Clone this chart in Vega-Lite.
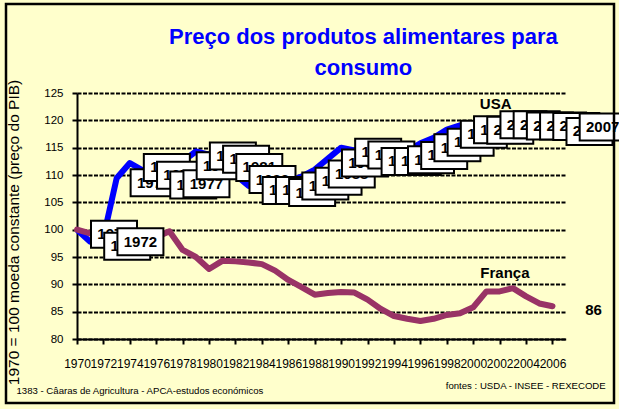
{
"$schema":"https://vega.github.io/schema/vega-lite/v6.json",
"width":488.7,"height":246,
"autosize":{"type":"none"},
"padding":{"left":77,"top":93,"right":53.3,"bottom":70},
"background":"#FFFFCC",
"config":{
 "view":{"stroke":null},
 "font":"Liberation Sans",
 "point":{"shape":"M14,-9h46v27h-46z","size":4,"filled":true,"fill":"white","stroke":"black","strokeWidth":2,"opacity":1},
 "text":{"dx":37,"dy":4.5,"font":"Liberation Sans","fontSize":15,"fontWeight":"bold","color":"black","align":"center","baseline":"middle"}
},
"title":{"text":["Preço dos produtos alimentares para","consumo"],"font":"Liberation Sans","fontSize":22,"fontWeight":"bold","color":"#0000FF","anchor":"middle","frame":"group","dx":42,"dy":77,"offset":0,"lineHeight":31},
"data":{"values":[
{"year":1970,"usa":100,"france":100},
{"year":1971,"usa":97.8,"france":99.3},
{"year":1972,"usa":98.6,"france":99},
{"year":1973,"usa":109.4,"france":98.8},
{"year":1974,"usa":112.2,"france":98.6},
{"year":1975,"usa":110.8,"france":98.7},
{"year":1976,"usa":109,"france":98.6},
{"year":1977,"usa":109.2,"france":99.7},
{"year":1978,"usa":112.5,"france":96.3},
{"year":1979,"usa":114.3,"france":95},
{"year":1980,"usa":113.7,"france":92.8},
{"year":1981,"usa":112.2,"france":94.3},
{"year":1982,"usa":110,"france":94.2},
{"year":1983,"usa":108,"france":94},
{"year":1984,"usa":108,"france":93.7},
{"year":1985,"usa":107.6,"france":92.5},
{"year":1986,"usa":108.8,"france":90.8},
{"year":1987,"usa":109.7,"france":89.5},
{"year":1988,"usa":111,"france":88.1},
{"year":1989,"usa":113,"france":88.4},
{"year":1990,"usa":115,"france":88.6},
{"year":1991,"usa":114.5,"france":88.5},
{"year":1992,"usa":113.3,"france":87.2},
{"year":1993,"usa":113.3,"france":85.5},
{"year":1994,"usa":113.6,"france":84.2},
{"year":1995,"usa":114.4,"france":83.7},
{"year":1996,"usa":115.8,"france":83.3},
{"year":1997,"usa":116.8,"france":83.7},
{"year":1998,"usa":118.3,"france":84.4},
{"year":1999,"usa":119.1,"france":84.7},
{"year":2000,"usa":119,"france":85.8},
{"year":2001,"usa":120,"france":88.7},
{"year":2002,"usa":120,"france":88.7},
{"year":2003,"usa":119.8,"france":89.3},
{"year":2004,"usa":119.8,"france":87.8},
{"year":2005,"usa":119.7,"france":86.5},
{"year":2006,"usa":118.8,"france":86},
{"year":2007,"usa":119.6}
]},
"encoding":{
 "x":{"field":"year","type":"quantitative","scale":{"domain":[1970,2007],"nice":false,"zero":false},
  "axis":{"values":[1970,1972,1974,1976,1978,1980,1982,1984,1986,1988,1990,1992,1994,1996,1998,2000,2002,2004,2006],"format":"d","grid":false,"labelFont":"Liberation Sans","labelFontSize":12,"labelColor":"black","labelPadding":14,"labelOverlap":false,"labelFlush":false,"labelBound":false,"tickColor":"black","tickSize":5,"tickWidth":2,"domainColor":"black","domainWidth":2,
   "title":"1383 - Câaras de Agricultura - APCA-estudos económicos","titleFont":"Liberation Sans","titleFontSize":9.6,"titleFontWeight":"normal","titleColor":"black","titleX":-61,"titleY":54,"titleAlign":"left","titleAnchor":"start","titleBaseline":"alphabetic"}},
 "y":{"field":"usa","type":"quantitative","scale":{"domain":[80,125],"nice":false,"zero":false},
  "axis":{"values":[80,85,90,95,100,105,110,115,120,125],"grid":true,"gridColor":"black","gridDash":[4,1.5],"gridWidth":2,"gridOpacity":1,"labelFont":"Liberation Sans","labelFontSize":11.5,"labelColor":"black","labelPadding":9,"tickColor":"black","tickSize":5,"tickWidth":2,"domainColor":"black","domainWidth":2,
   "title":"1970 = 100 moeda constante (preço do PIB)","titleFont":"Liberation Sans","titleFontSize":15.5,"titleFontWeight":"normal","titleColor":"black","titleX":-64,"titleY":139,"titleAngle":-90,"titleAlign":"center","titleBaseline":"middle"}}
},
"layer":[
 {"mark":{"type":"line","color":"#0000FF","strokeWidth":6,"strokeJoin":"round"}},
 {"mark":{"type":"line","color":"#993366","strokeWidth":6,"strokeJoin":"round","strokeCap":"round"},"encoding":{"y":{"field":"france","type":"quantitative"}}},
 {"transform":[{"filter":"datum.year==1970"}],"layer":[{"mark":"point"},{"mark":"text","encoding":{"text":{"field":"year","type":"nominal"}}}]},
 {"transform":[{"filter":"datum.year==1971"}],"layer":[{"mark":"point"},{"mark":"text","encoding":{"text":{"field":"year","type":"nominal"}}}]},
 {"transform":[{"filter":"datum.year==1972"}],"layer":[{"mark":"point"},{"mark":"text","encoding":{"text":{"field":"year","type":"nominal"}}}]},
 {"transform":[{"filter":"datum.year==1973"}],"layer":[{"mark":"point"},{"mark":"text","encoding":{"text":{"field":"year","type":"nominal"}}}]},
 {"transform":[{"filter":"datum.year==1974"}],"layer":[{"mark":"point"},{"mark":"text","encoding":{"text":{"field":"year","type":"nominal"}}}]},
 {"transform":[{"filter":"datum.year==1975"}],"layer":[{"mark":"point"},{"mark":"text","encoding":{"text":{"field":"year","type":"nominal"}}}]},
 {"transform":[{"filter":"datum.year==1976"}],"layer":[{"mark":"point"},{"mark":"text","encoding":{"text":{"field":"year","type":"nominal"}}}]},
 {"transform":[{"filter":"datum.year==1977"}],"layer":[{"mark":"point"},{"mark":"text","encoding":{"text":{"field":"year","type":"nominal"}}}]},
 {"transform":[{"filter":"datum.year==1978"}],"layer":[{"mark":"point"},{"mark":"text","encoding":{"text":{"field":"year","type":"nominal"}}}]},
 {"transform":[{"filter":"datum.year==1979"}],"layer":[{"mark":"point"},{"mark":"text","encoding":{"text":{"field":"year","type":"nominal"}}}]},
 {"transform":[{"filter":"datum.year==1980"}],"layer":[{"mark":"point"},{"mark":"text","encoding":{"text":{"field":"year","type":"nominal"}}}]},
 {"transform":[{"filter":"datum.year==1981"}],"layer":[{"mark":"point"},{"mark":"text","encoding":{"text":{"field":"year","type":"nominal"}}}]},
 {"transform":[{"filter":"datum.year==1982"}],"layer":[{"mark":"point"},{"mark":"text","encoding":{"text":{"field":"year","type":"nominal"}}}]},
 {"transform":[{"filter":"datum.year==1983"}],"layer":[{"mark":"point"},{"mark":"text","encoding":{"text":{"field":"year","type":"nominal"}}}]},
 {"transform":[{"filter":"datum.year==1984"}],"layer":[{"mark":"point"},{"mark":"text","encoding":{"text":{"field":"year","type":"nominal"}}}]},
 {"transform":[{"filter":"datum.year==1985"}],"layer":[{"mark":"point"},{"mark":"text","encoding":{"text":{"field":"year","type":"nominal"}}}]},
 {"transform":[{"filter":"datum.year==1986"}],"layer":[{"mark":"point"},{"mark":"text","encoding":{"text":{"field":"year","type":"nominal"}}}]},
 {"transform":[{"filter":"datum.year==1987"}],"layer":[{"mark":"point"},{"mark":"text","encoding":{"text":{"field":"year","type":"nominal"}}}]},
 {"transform":[{"filter":"datum.year==1988"}],"layer":[{"mark":"point"},{"mark":"text","encoding":{"text":{"field":"year","type":"nominal"}}}]},
 {"transform":[{"filter":"datum.year==1989"}],"layer":[{"mark":"point"},{"mark":"text","encoding":{"text":{"field":"year","type":"nominal"}}}]},
 {"transform":[{"filter":"datum.year==1990"}],"layer":[{"mark":"point"},{"mark":"text","encoding":{"text":{"field":"year","type":"nominal"}}}]},
 {"transform":[{"filter":"datum.year==1991"}],"layer":[{"mark":"point"},{"mark":"text","encoding":{"text":{"field":"year","type":"nominal"}}}]},
 {"transform":[{"filter":"datum.year==1992"}],"layer":[{"mark":"point"},{"mark":"text","encoding":{"text":{"field":"year","type":"nominal"}}}]},
 {"transform":[{"filter":"datum.year==1993"}],"layer":[{"mark":"point"},{"mark":"text","encoding":{"text":{"field":"year","type":"nominal"}}}]},
 {"transform":[{"filter":"datum.year==1994"}],"layer":[{"mark":"point"},{"mark":"text","encoding":{"text":{"field":"year","type":"nominal"}}}]},
 {"transform":[{"filter":"datum.year==1995"}],"layer":[{"mark":"point"},{"mark":"text","encoding":{"text":{"field":"year","type":"nominal"}}}]},
 {"transform":[{"filter":"datum.year==1996"}],"layer":[{"mark":"point"},{"mark":"text","encoding":{"text":{"field":"year","type":"nominal"}}}]},
 {"transform":[{"filter":"datum.year==1997"}],"layer":[{"mark":"point"},{"mark":"text","encoding":{"text":{"field":"year","type":"nominal"}}}]},
 {"transform":[{"filter":"datum.year==1998"}],"layer":[{"mark":"point"},{"mark":"text","encoding":{"text":{"field":"year","type":"nominal"}}}]},
 {"transform":[{"filter":"datum.year==1999"}],"layer":[{"mark":"point"},{"mark":"text","encoding":{"text":{"field":"year","type":"nominal"}}}]},
 {"transform":[{"filter":"datum.year==2000"}],"layer":[{"mark":"point"},{"mark":"text","encoding":{"text":{"field":"year","type":"nominal"}}}]},
 {"transform":[{"filter":"datum.year==2001"}],"layer":[{"mark":"point"},{"mark":"text","encoding":{"text":{"field":"year","type":"nominal"}}}]},
 {"transform":[{"filter":"datum.year==2002"}],"layer":[{"mark":"point"},{"mark":"text","encoding":{"text":{"field":"year","type":"nominal"}}}]},
 {"transform":[{"filter":"datum.year==2003"}],"layer":[{"mark":"point"},{"mark":"text","encoding":{"text":{"field":"year","type":"nominal"}}}]},
 {"transform":[{"filter":"datum.year==2004"}],"layer":[{"mark":"point"},{"mark":"text","encoding":{"text":{"field":"year","type":"nominal"}}}]},
 {"transform":[{"filter":"datum.year==2005"}],"layer":[{"mark":"point"},{"mark":"text","encoding":{"text":{"field":"year","type":"nominal"}}}]},
 {"transform":[{"filter":"datum.year==2006"}],"layer":[{"mark":"point"},{"mark":"text","encoding":{"text":{"field":"year","type":"nominal"}}}]},
 {"transform":[{"filter":"datum.year==2007"}],"layer":[{"mark":"point"},{"mark":"text","encoding":{"text":{"field":"year","type":"nominal"}}}]},
 {"transform":[{"filter":"datum.year==2006"}],"mark":{"type":"text","dx":41,"dy":4},"encoding":{"y":{"field":"france","type":"quantitative"},"text":{"field":"france","type":"quantitative"}}},
 {"transform":[{"filter":"datum.year==1970"}],"mark":{"type":"text","dx":0,"dy":0},"encoding":{"x":{"datum":2001.7},"y":{"datum":123},"text":{"value":"USA"}}},
 {"transform":[{"filter":"datum.year==1971"}],"mark":{"type":"text","dx":0,"dy":0},"encoding":{"x":{"datum":2002.4},"y":{"datum":92.1},"text":{"value":"França"}}},
 {"transform":[{"filter":"datum.year==1972"}],"mark":{"type":"text","dx":40,"dy":50,"fontSize":9.6,"fontWeight":"normal","align":"right","baseline":"alphabetic"},"encoding":{"x":{"datum":2007},"y":{"datum":80},"text":{"value":"fontes : USDA - INSEE - REXECODE"}}},
 {"transform":[{"filter":"datum.year==1973"}],"mark":{"type":"rect","fillOpacity":0,"stroke":"black","strokeWidth":2.5,"xOffset":-71,"x2Offset":48.3,"yOffset":-89,"y2Offset":64},"encoding":{"x":{"datum":1970},"x2":{"datum":2007},"y":{"datum":125},"y2":{"datum":80}}}
]
}
